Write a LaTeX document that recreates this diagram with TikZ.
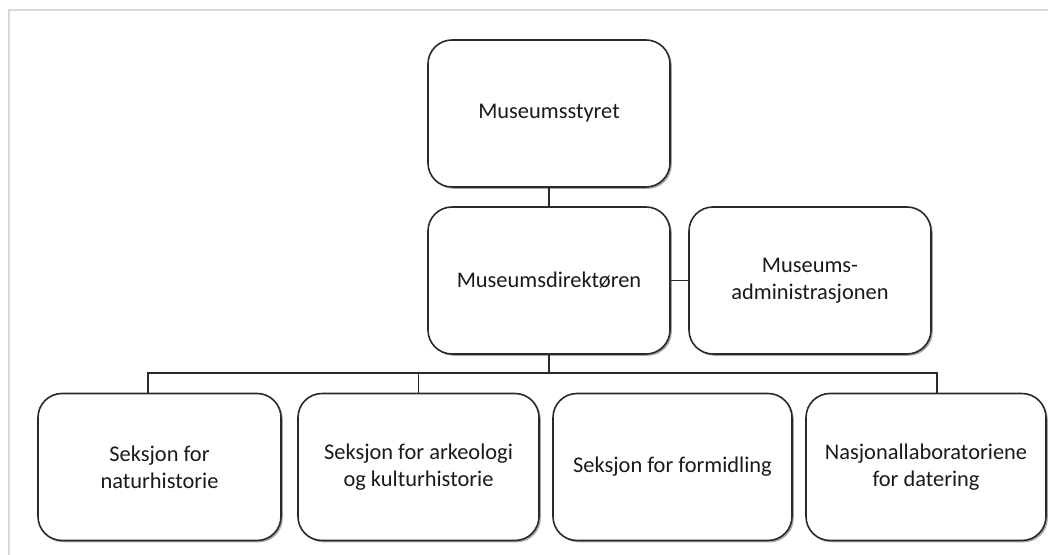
\documentclass[tikz,border=0pt]{standalone}
\usepackage{fontspec}
\setmainfont{Carlito}
\usetikzlibrary{shadows}
\definecolor{linec}{HTML}{2A2A2A}
\definecolor{framec}{HTML}{D9D9D9}
\definecolor{textc}{HTML}{1A1A1A}
\tikzset{
  orgbox/.style={draw=linec, line width=1.6bp, fill=white, rounded corners=24bp,
    minimum width=242bp, minimum height=147bp, inner sep=0pt, align=center,
    text=textc, font=\fontsize{22.4bp}{27bp}\selectfont,
    drop shadow={shadow xshift=1.8bp, shadow yshift=-1.8bp, fill=black, opacity=0.35}},
  conn/.style={draw=linec, line width=1.9bp},
}
\begin{document}
\begin{tikzpicture}[x=1bp, y=-1bp]
\useasboundingbox (0,0) rectangle (1048,555);
\fill[white] (0,0) rectangle (1048,555);
\draw[framec, line width=2bp] (9,555) -- (9,10) -- (1048,10);

\node[orgbox] (top) at (549,113.5) {Museumsstyret};
\node[orgbox] (dir) at (549,280.5) {Museumsdirektøren};
\node[orgbox] (adm) at (810,280.5) {Museums-\\administrasjonen};

\node[orgbox, minimum width=243bp] (b1) at (159.5,467) {Seksjon for\\naturhistorie};
\node[orgbox, minimum width=241bp] (b2) at (418.5,467) {Seksjon for arkeologi\\og kulturhistorie};
\node[orgbox, minimum width=239bp] (b3) at (672.5,467) {Seksjon for formidling};
\node[orgbox, minimum width=240bp] (b4) at (926,467) {Nasjonallaboratoriene\\for datering};

\coordinate (busL) at (148,373);
\coordinate (busR) at (937,373);

\draw[conn] (top.south) -- (dir.north);
\draw[conn] (dir.east) -- (adm.west);
\draw[conn] (dir.south) -- (dir.south |- busL);
\draw[conn] (busL |- b1.north) -- (busL) -- (busR) -- (busR |- b4.north);
\draw[conn] (b2.north) -- (b2.north |- busL);
\end{tikzpicture}
\end{document}
